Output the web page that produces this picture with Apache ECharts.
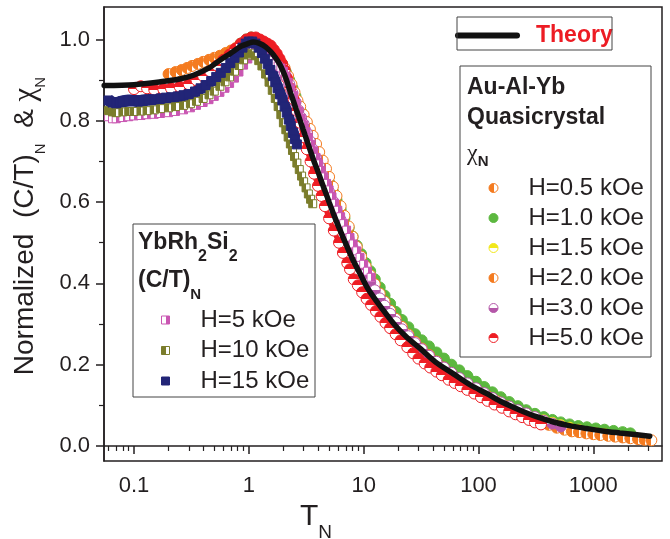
<!DOCTYPE html>
<html><head><meta charset="utf-8">
<script src="https://cdn.jsdelivr.net/npm/echarts@6/dist/echarts.min.js"></script>
<style>html,body{margin:0;padding:0;background:#fff}#c{width:670px;height:539px}</style>
</head><body><div id="c"></div>
<script>
// ---------- tick labels ----------
const xMajorTicks = [0.1, 1, 10, 100, 1000];
const xMinorTicks = [0.06,0.07,0.08,0.09,0.2,0.3,0.4,0.5,0.6,0.7,0.8,0.9,2,3,4,5,6,7,8,9,20,30,40,50,60,70,80,90,200,300,400,500,600,700,800,900,2000,3000];
const yMajorTicks = [0, 0.2, 0.4, 0.6, 0.8, 1.0];
const yMinorTicks = [0.1, 0.3, 0.5, 0.7, 0.9];

// ---------- series values [T_N, normalized] ----------
const theory = [[0.055,0.887],[0.1,0.889],[0.17,0.896],[0.25,0.903],[0.33,0.912],[0.45,0.93],[0.56,0.949],[0.7,0.967],[0.85,0.983],[1.0,0.991],[1.1,0.994],[1.25,0.99],[1.4,0.982],[1.55,0.97],[1.7,0.956],[1.85,0.94],[2.0,0.92],[2.13,0.90],[2.3,0.87],[2.45,0.848],[2.6,0.826],[2.8,0.80],[3.0,0.775],[3.2,0.752],[3.45,0.725],[3.7,0.70],[4.0,0.675],[4.3,0.65],[4.6,0.628],[5.0,0.60],[5.6,0.563],[6.6,0.514],[8.0,0.46],[9.3,0.424],[11,0.385],[14.8,0.334],[19,0.295],[23.6,0.268],[31,0.240],[42,0.207],[60,0.178],[85,0.15],[118,0.129],[160,0.108],[230,0.088],[320,0.072],[450,0.059],[620,0.05],[875,0.043],[1200,0.037],[1700,0.032],[2300,0.028],[3100,0.024]];

const chi05 = [[0.2,0.915],[0.23,0.92],[0.26,0.925],[0.29,0.93],[0.32,0.935],[0.36,0.94],[0.4,0.945],[0.45,0.95],[0.5,0.955],[0.56,0.96],[0.63,0.967],[0.7,0.973],[0.78,0.98],[0.86,0.986],[0.95,0.99],[1.05,0.993],[1.15,0.993],[1.3,0.988],[1.45,0.98],[1.6,0.97],[1.75,0.958],[1.9,0.945],[2.05,0.93],[2.2,0.91],[2.35,0.89],[2.5,0.87],[2.65,0.85],[2.8,0.835],[3.0,0.815],[3.2,0.797],[3.4,0.78],[3.6,0.763],[3.85,0.743],[4.1,0.723],[4.4,0.702],[4.7,0.682],[5.0,0.662],[5.4,0.638],[5.8,0.615],[6.3,0.59],[6.8,0.566],[7.4,0.54],[8.0,0.515],[8.7,0.49],[9.5,0.466],[10.4,0.442],[11.4,0.42],[12.5,0.398],[13.8,0.375],[15.2,0.355],[17,0.333],[19,0.313],[21.5,0.293],[24.5,0.274],[28,0.256],[32,0.24],[37,0.224],[43,0.208],[50,0.193],[58,0.179],[68,0.165],[80,0.152],[95,0.14],[112,0.128]];

const chi10 = [[0.85,0.99],[0.95,1.0],[1.05,1.005],[1.2,1.0],[1.35,0.99],[1.5,0.98],[1.65,0.968],[1.8,0.955],[1.95,0.94],[2.1,0.92],[2.25,0.9],[2.4,0.88],[2.55,0.86],[2.7,0.84],[2.85,0.822],[3.0,0.805],[3.2,0.784],[3.4,0.765],[3.6,0.747],[3.85,0.727],[4.1,0.708],[4.4,0.687],[4.7,0.667],[5.0,0.648],[5.4,0.626],[5.8,0.605],[6.3,0.582],[6.8,0.56],[7.4,0.537],[8.0,0.515],[8.7,0.493],[9.5,0.472],[10.4,0.45],[11.4,0.43],[12.5,0.41],[13.8,0.39],[15.2,0.37],[17,0.35],[19,0.33],[21.5,0.31],[24.5,0.292],[28,0.275],[32,0.26],[37,0.245],[43,0.23],[50,0.215],[58,0.2],[68,0.186],[80,0.172],[95,0.158],[112,0.145],[132,0.132],[156,0.12],[185,0.108],[220,0.098],[260,0.088],[310,0.079],[370,0.071],[440,0.064],[520,0.058],[620,0.053],[740,0.049],[880,0.046],[1050,0.043],[1250,0.04],[1500,0.037],[1800,0.034],[2100,0.031]];

const chi15 = [[12,0.38],[13.5,0.36],[15,0.345],[17,0.322],[19,0.303],[21.5,0.285],[24.5,0.268],[28,0.252],[32,0.236],[37,0.22],[43,0.205],[50,0.19],[58,0.176],[68,0.162],[80,0.15],[95,0.138],[112,0.126],[132,0.115],[156,0.105],[185,0.095],[220,0.086],[260,0.078],[310,0.07],[370,0.063],[440,0.057],[520,0.051],[620,0.045],[740,0.04],[880,0.034],[1050,0.031],[1250,0.029]];

const chi20 = [[100,0.133],[120,0.122],[145,0.11],[175,0.098],[210,0.086],[250,0.076],[300,0.067],[350,0.06],[410,0.052],[480,0.045],[560,0.04],[650,0.036],[750,0.034],[870,0.031],[1000,0.029],[1150,0.027],[1350,0.025],[1550,0.023],[1800,0.021],[2100,0.019],[2450,0.017],[2800,0.015],[3200,0.014]];

const chi30 = [[1.2,0.99],[1.35,0.985],[1.5,0.975],[1.65,0.962],[1.8,0.948],[1.95,0.93],[2.1,0.91],[2.25,0.89],[2.4,0.868],[2.55,0.846],[2.7,0.826],[2.85,0.808],[3.0,0.792],[3.2,0.77],[3.4,0.75],[3.6,0.73],[3.85,0.708],[4.1,0.688],[4.4,0.665],[4.7,0.645],[5.0,0.625],[5.4,0.602],[5.8,0.58],[6.3,0.556],[6.8,0.533],[7.4,0.51],[8.0,0.488],[8.7,0.466],[9.5,0.445],[10.4,0.423],[11.4,0.403],[12.5,0.383],[13.8,0.363],[15.2,0.345],[17,0.325],[19,0.305],[21.5,0.287],[24.5,0.27],[28,0.253],[32,0.238],[37,0.222],[43,0.207],[50,0.193],[58,0.18],[68,0.167],[80,0.154],[95,0.142],[112,0.13],[132,0.118],[156,0.107],[185,0.097],[220,0.088],[260,0.08],[310,0.071],[370,0.062],[440,0.055],[520,0.048]];

const chi50 = [[0.1,0.878],[0.115,0.885],[0.13,0.88],[0.15,0.877],[0.18,0.878],[0.21,0.88],[0.25,0.884],[0.3,0.89],[0.35,0.9],[0.4,0.91],[0.46,0.922],[0.53,0.936],[0.6,0.95],[0.68,0.963],[0.76,0.977],[0.85,0.99],[0.95,1.0],[1.05,1.005],[1.15,1.005],[1.25,1.0],[1.35,0.995],[1.45,0.99],[1.55,0.985],[1.65,0.975],[1.75,0.965],[1.85,0.953],[1.95,0.94],[2.05,0.925],[2.15,0.905],[2.3,0.88],[2.45,0.853],[2.6,0.825],[2.8,0.795],[3.0,0.76],[3.2,0.73],[3.45,0.7],[3.7,0.67],[4.0,0.64],[4.3,0.615],[4.6,0.59],[5.0,0.56],[5.5,0.53],[6.1,0.5],[6.6,0.475],[7.2,0.45],[7.6,0.435],[8.2,0.41],[8.9,0.395],[9.7,0.378],[10.6,0.362],[11.6,0.347],[12.8,0.332],[14,0.318],[15.5,0.303],[17,0.29],[19,0.275],[21,0.26],[24,0.243],[27,0.228],[30,0.215],[34,0.203],[38,0.193],[43,0.183],[48,0.174],[55,0.163],[62,0.155],[70,0.147],[80,0.138],[92,0.129],[105,0.12],[120,0.111],[138,0.102],[160,0.094],[185,0.085],[210,0.078],[240,0.071],[275,0.064],[310,0.058],[350,0.053]];

const ct5 = [[0.06,0.81],[0.065,0.805],[0.07,0.805],[0.08,0.808],[0.09,0.81],[0.1,0.812],[0.115,0.813],[0.13,0.815],[0.15,0.816],[0.17,0.818],[0.2,0.82],[0.23,0.823],[0.27,0.827],[0.31,0.832],[0.35,0.838],[0.4,0.845],[0.45,0.852],[0.5,0.86],[0.56,0.87],[0.62,0.88],[0.68,0.892],[0.75,0.905],[0.82,0.92],[0.9,0.937],[0.98,0.952],[1.06,0.962],[1.14,0.968],[1.22,0.97],[1.3,0.968],[1.4,0.962],[1.5,0.955],[1.6,0.948],[1.7,0.94],[1.8,0.935],[1.9,0.93],[2.0,0.922],[2.1,0.91],[2.2,0.895],[2.32,0.88],[2.45,0.862],[2.58,0.843],[2.72,0.824],[2.86,0.806],[3.0,0.79],[3.15,0.774],[3.3,0.758],[3.47,0.742],[3.65,0.726],[3.85,0.71],[4.05,0.694],[4.27,0.678],[4.5,0.662],[4.75,0.646],[5.0,0.63],[5.3,0.613],[5.6,0.597],[5.95,0.58],[6.3,0.564],[6.7,0.547],[7.1,0.531],[7.6,0.513],[8.1,0.497],[8.7,0.48],[9.3,0.464],[10,0.447],[10.8,0.43],[11.6,0.415]];

const ct10 = [[0.06,0.825],[0.065,0.822],[0.07,0.82],[0.08,0.822],[0.09,0.823],[0.1,0.823],[0.115,0.824],[0.13,0.825],[0.15,0.827],[0.17,0.83],[0.2,0.832],[0.23,0.835],[0.27,0.838],[0.31,0.842],[0.35,0.848],[0.4,0.855],[0.45,0.864],[0.5,0.873],[0.56,0.885],[0.62,0.896],[0.68,0.908],[0.75,0.922],[0.82,0.936],[0.9,0.95],[0.98,0.962],[1.06,0.965],[1.14,0.96],[1.22,0.948],[1.3,0.935],[1.4,0.915],[1.5,0.895],[1.6,0.875],[1.7,0.855],[1.8,0.835],[1.9,0.815],[2.0,0.795],[2.1,0.778],[2.2,0.76],[2.3,0.743],[2.4,0.727],[2.5,0.712],[2.62,0.696],[2.75,0.68],[2.88,0.664],[3.0,0.65],[3.15,0.635],[3.3,0.62],[3.45,0.607],[3.6,0.596]];

const ct15 = [[0.06,0.85],[0.065,0.845],[0.07,0.843],[0.075,0.846],[0.08,0.848],[0.09,0.85],[0.1,0.85],[0.11,0.848],[0.12,0.85],[0.135,0.852],[0.15,0.853],[0.17,0.855],[0.19,0.857],[0.21,0.858],[0.24,0.86],[0.27,0.863],[0.3,0.866],[0.34,0.872],[0.38,0.88],[0.42,0.888],[0.47,0.898],[0.52,0.908],[0.57,0.918],[0.63,0.93],[0.69,0.942],[0.75,0.955],[0.82,0.968],[0.88,0.98],[0.94,0.99],[1.0,0.995],[1.07,0.995],[1.14,0.99],[1.22,0.98],[1.3,0.967],[1.38,0.953],[1.46,0.94],[1.54,0.925],[1.62,0.91],[1.7,0.895],[1.78,0.88],[1.87,0.865],[1.96,0.85],[2.05,0.835],[2.14,0.82],[2.23,0.803],[2.32,0.787],[2.42,0.77],[2.52,0.755],[2.62,0.742]];

// ---------- styling ----------
const INK = '#231f20';
const FONT = 'Liberation Sans, Arial, sans-serif';
const C = { orange:'#F47B20', green:'#5CB83F', yellow:'#F2E81A', purple:'#B456A8', red:'#EE1D24', pink:'#C956B2', olive:'#7B7D2C', navy:'#222577' };
const SQUARE = 'path://M0,0L10,0L10,10L0,10Z';

function half(color, side) {
  const horiz = (side === 'left' || side === 'right');
  const first = (side === 'left' || side === 'top') ? color : '#ffffff';
  const second = first === color ? '#ffffff' : color;
  return { type:'linear', x:0, y:0, x2: horiz ? 1 : 0, y2: horiz ? 0 : 1,
    colorStops:[{offset:0,color:first},{offset:0.5,color:first},{offset:0.5,color:second},{offset:1,color:second}] };
}

function dataSeries(name, data, color, fill, symbol, size, lw) {
  return {
    name, type:'line', data, symbol, symbolSize:size, showSymbol:true,
    lineStyle:{ color, width: lw },
    itemStyle:{ color: fill, borderColor: color, borderWidth: 1 },
    emphasis:{ disabled:true }, z: 2
  };
}

const series = [
  dataSeries('H=1.0 kOe', chi10, C.green, C.green, 'circle', 11, 7),
  dataSeries('H=1.5 kOe', chi15, C.yellow, half(C.yellow,'top'), 'circle', 11, 4),
  dataSeries('H=2.0 kOe', chi20, C.orange, half(C.orange,'left'), 'circle', 11, 5),
  dataSeries('H=0.5 kOe', chi05, C.orange, half(C.orange,'left'), 'circle', 11, 5),
  dataSeries('H=3.0 kOe', chi30, C.purple, half(C.purple,'bottom'), 'circle', 11, 5),
  dataSeries('H=5.0 kOe', chi50, C.red, half(C.red,'top'), 'circle', 11, 5),
  dataSeries('H=5 kOe', ct5, C.pink, half(C.pink,'right'), SQUARE, 8, 4),
  dataSeries('H=10 kOe', ct10, C.olive, half(C.olive,'left'), SQUARE, 8, 6),
  dataSeries('H=15 kOe', ct15, C.navy, C.navy, SQUARE, 9, 12),
  { name:'Theory', type:'line', data: theory, smooth:0.3, symbol:'none',
    lineStyle:{ color:'#111', width:5.5, cap:'round' }, itemStyle:{ color:'#111' },
    emphasis:{ disabled:true }, z: 5 }
];

const chart = echarts.init(document.getElementById('c'), null, { renderer:'canvas' });

const legendText = { color: INK, fontFamily: FONT, fontSize: 24, lineHeight: 24 };

chart.setOption({
  animation: false,
  backgroundColor: '#fff',
  grid: { left:104, right:8, top:7, bottom:78, show:true, borderColor: INK, borderWidth:1.5, outerBoundsMode:'none', containLabel:false },
  xAxis: [
    { type:'log', min:0.0548, max:3963,
      axisLine:{ show:true, lineStyle:{ color:INK, width:1.5 } },
      axisTick:{ show:true, customValues:xMajorTicks, length:8, lineStyle:{ color:INK, width:1.5 } },
      axisLabel:{ customValues:xMajorTicks, margin:14, fontSize:22, color:INK, fontFamily:FONT, formatter: v => String(v) },
      splitLine:{ show:false }, minorTick:{ show:false },
      name:'{t|T}{s|N}', nameLocation:'middle', nameGap:27,
      nameTextStyle:{ padding:[0,134,0,0], rich:{
        t:{ fontSize:30, fontFamily:FONT, color:INK, lineHeight:50 },
        s:{ fontSize:19, fontFamily:FONT, color:INK, lineHeight:19, verticalAlign:'bottom' } } } },
    { type:'log', min:0.0548, max:3963, position:'bottom',
      axisLine:{ show:false },
      axisTick:{ show:true, customValues:xMinorTicks, length:5, lineStyle:{ color:INK, width:1.2 } },
      axisLabel:{ show:false }, splitLine:{ show:false } }
  ],
  yAxis: [
    { type:'value', min:-0.037, max:1.08,
      axisLine:{ show:true, lineStyle:{ color:INK, width:1.5 } },
      axisTick:{ show:true, customValues:yMajorTicks, length:8, lineStyle:{ color:INK, width:1.5 } },
      axisLabel:{ customValues:yMajorTicks, margin:14, fontSize:22, color:INK, fontFamily:FONT, formatter: v => v.toFixed(1) },
      splitLine:{ show:false },
      name:'{m|Normalized  (C/T)}{s|N}{m|  & }{c|χ}{s|N}', nameLocation:'middle', nameGap:54, nameRotate:90,
      nameTextStyle:{ padding:[0,0,0,16], rich:{
        m:{ fontSize:28, fontFamily:FONT, color:INK, lineHeight:46 },
        c:{ fontSize:31, fontFamily:'Liberation Serif, serif', color:INK, lineHeight:46 },
        s:{ fontSize:15, fontFamily:FONT, color:INK, lineHeight:15, verticalAlign:'bottom' } } } },
    { type:'value', min:-0.037, max:1.08, position:'left',
      axisLine:{ show:false },
      axisTick:{ show:true, customValues:yMinorTicks, length:5, lineStyle:{ color:INK, width:1.2 } },
      axisLabel:{ show:false }, splitLine:{ show:false } }
  ],
  legend: [
    { data:[{ name:'Theory' }], left:455, top:24, padding:0, itemWidth:59, itemHeight:5, selectedMode:false,
      lineStyle:{ width:6, cap:'round', color:'#111' },
      textStyle:{ color:'#ED1C24', fontWeight:'bold', fontSize:23, fontFamily:FONT, padding:[0,0,0,14] } },
    { data:['H=0.5 kOe','H=1.0 kOe','H=1.5 kOe','H=2.0 kOe','H=3.0 kOe','H=5.0 kOe'].map(n => ({ name:n, icon:'circle' })),
      orient:'vertical', left:488.5, top:176, padding:0, itemGap:6, itemWidth:60, itemHeight:9, selectedMode:false,
      itemStyle:{ borderWidth:1 }, textStyle: legendText },
    { data:['H=5 kOe','H=10 kOe','H=15 kOe'].map(n => ({ name:n, icon:SQUARE })),
      orient:'vertical', left:161, top:308, padding:0, itemGap:6.5, itemWidth:60, itemHeight:8, selectedMode:false,
      itemStyle:{ borderWidth:1 }, textStyle: legendText }
  ],
  graphic: [
    { type:'rect', shape:{ x:457, y:17, width:155, height:33 }, style:{ fill:null, stroke:'#444', lineWidth:1 }, z:10 },
    { type:'rect', shape:{ x:460, y:66, width:191, height:291 }, style:{ fill:null, stroke:'#444', lineWidth:1 }, z:10 },
    { type:'rect', shape:{ x:133, y:224, width:182, height:173 }, style:{ fill:null, stroke:'#444', lineWidth:1 }, z:10 },
    { type:'text', x:467, y:88, z:10, style:{ text:'Au-Al-Yb', fill:INK, font:'bold 23px ' + FONT, verticalAlign:'middle' } },
    { type:'text', x:467, y:118, z:10, style:{ text:'Quasicrystal', fill:INK, font:'bold 23px ' + FONT, verticalAlign:'middle' } },
    { type:'text', x:467, y:154, z:10, style:{ text:'{c|χ}{s|N}', verticalAlign:'middle', rich:{
        c:{ fontSize:24, fontFamily:'Liberation Serif, serif', fill:INK, lineHeight:30 },
        s:{ fontSize:15, fontWeight:'bold', fontFamily:FONT, fill:INK, lineHeight:15, verticalAlign:'bottom' } } } },
    { type:'text', x:138, y:243, z:10, style:{ text:'{b|YbRh}{s|2}{b|Si}{s|2}', verticalAlign:'middle', rich:{
        b:{ fontSize:23, fontWeight:'bold', fontFamily:FONT, fill:INK, lineHeight:44 },
        s:{ fontSize:16, fontWeight:'bold', fontFamily:FONT, fill:INK, lineHeight:16, verticalAlign:'bottom' } } } },
    { type:'text', x:138, y:281, z:10, style:{ text:'{b|(C/T)}{s|N}', verticalAlign:'middle', rich:{
        b:{ fontSize:23, fontWeight:'bold', fontFamily:FONT, fill:INK, lineHeight:42 },
        s:{ fontSize:15, fontWeight:'bold', fontFamily:FONT, fill:INK, lineHeight:15, verticalAlign:'bottom' } } } }
  ],
  series
});
</script></body></html>
